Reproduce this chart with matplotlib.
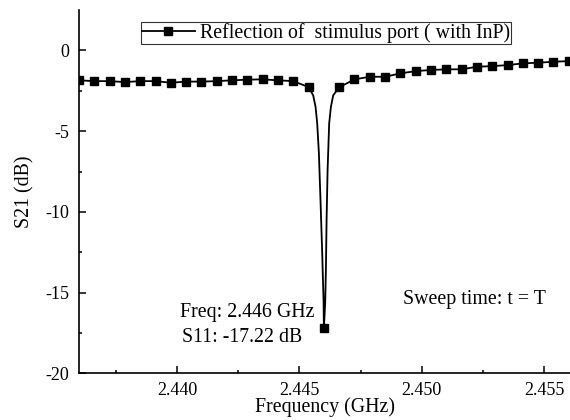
import numpy as np
import matplotlib
matplotlib.use('Agg')
from matplotlib import pyplot as plt
from matplotlib.lines import Line2D

# marker frequencies (GHz) and S21 values (dB)
freq_marks = [2.436, 2.436625, 2.43725, 2.437875, 2.4385, 2.439125, 2.43975,
              2.440375, 2.441, 2.441625, 2.44225, 2.442875, 2.4435, 2.444125,
              2.44475, 2.445375, 2.446, 2.446625, 2.44725, 2.447875, 2.4485,
              2.449125, 2.44975, 2.450375, 2.451, 2.451625, 2.45225, 2.452875,
              2.4535, 2.454125, 2.45475, 2.455375, 2.456]
s21_marks = [-1.85, -1.90, -1.90, -1.96, -1.90, -1.90, -2.00, -1.93, -1.93,
             -1.90, -1.85, -1.81, -1.79, -1.85, -1.90, -2.27, -17.22, -2.28,
             -1.79, -1.63, -1.63, -1.42, -1.28, -1.21, -1.17, -1.17, -1.01,
             -0.97, -0.91, -0.80, -0.76, -0.70, -0.66]

# extra points read along the narrow resonance dip
freq_dip = [2.445563, 2.445661, 2.445727, 2.445796, 2.445865, 2.445931, 2.445988,
            2.446053, 2.446082, 2.446110, 2.446151, 2.446216, 2.446286, 2.446380]
s21_dip = [-2.78, -3.50, -4.52, -6.36, -9.44, -12.53, -15.62,
           -15.62, -13.58, -10.49, -7.41, -4.52, -3.50, -2.78]

xticks = [2.440, 2.445, 2.450, 2.455]
yticks = [0, -5, -10, -15, -20]

plt.rcParams['font.family'] = ['Liberation Serif', 'DejaVu Serif']
plt.rcParams['font.size'] = 14.3

# merge marker points and dip points for the connecting line
line_f = np.array(freq_marks + freq_dip)
line_s = np.array(s21_marks + s21_dip)
order = np.argsort(line_f)
line_f, line_s = line_f[order], line_s[order]

fig = plt.figure(figsize=(5.7, 4.2), dpi=100)
ax = fig.add_axes([0.1386, 0.111, 0.8614, 0.865])

ax.plot(line_f, line_s, color='black', linewidth=1.3, zorder=3)
ax.plot(freq_marks, s21_marks, linestyle='none', marker='s', markersize=5.5,
        color='black', zorder=4)

ax.set_xlim(2.436, 2.45605)
ax.set_ylim(-20, 2.5)
ax.set_xticks(xticks)
ax.set_xticklabels([f'{t:.3f}' for t in xticks])
ax.set_xticks([2.4375, 2.4425, 2.4475, 2.4525], minor=True)
ax.set_yticks(yticks)
ax.set_yticklabels([f'{t}' for t in yticks])
ax.set_yticks([-2.5, -7.5, -12.5, -17.5], minor=True)
ax.tick_params(which='both', direction='in', width=1.1, labelsize=13)
ax.tick_params(which='major', length=5)
ax.tick_params(axis='x', which='major', pad=6)
ax.tick_params(axis='y', which='major', pad=7)
ax.tick_params(which='minor', length=2.5)

for side in ['top', 'right']:
    ax.spines[side].set_visible(False)
for side in ['left', 'bottom']:
    ax.spines[side].set_linewidth(1.2)

ax.set_xlabel('Frequency (GHz)', labelpad=-1)
ax.set_ylabel('S21 (dB)', labelpad=8)

handle = Line2D([], [], color='black', linewidth=1.3, marker='s', markersize=5.5)
leg = ax.legend([handle], ['Reflection of  stimulus port ( with InP)'],
                loc='upper center', bbox_to_anchor=(0.503, 0.966),
                frameon=True, fancybox=False, edgecolor='black',
                borderpad=0.05, handlelength=2.7, handletextpad=0.25,
                borderaxespad=0)
leg.get_frame().set_linewidth(0.8)

ax.text(2.44286, -16.23, 'Freq: 2.446 GHz', ha='center', va='center')
ax.text(2.44265, -17.8, 'S11: -17.22 dB', ha='center', va='center')
ax.text(2.45216, -15.45, 'Sweep time: t = T', ha='center', va='center')

fig.savefig('out.png', dpi=100)
